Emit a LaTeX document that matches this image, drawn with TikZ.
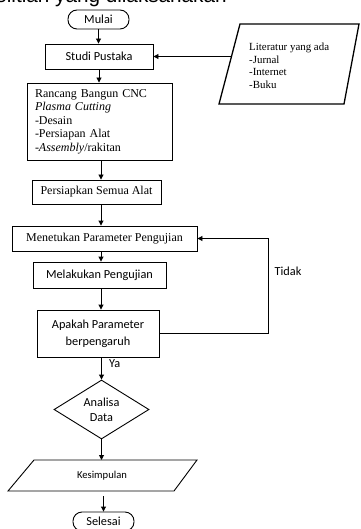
\documentclass[tikz,border=0pt]{standalone}
\usepackage{fontspec}
\setmainfont{Liberation Serif}
\newfontfamily\calib{Carlito}
\newfontfamily\arialf{Liberation Sans}
\usetikzlibrary{arrows.meta,shapes.geometric}
\begin{document}
\begin{tikzpicture}[x=1pt,y=-1pt,
  box/.style={draw,line width=0.9pt,rectangle,inner sep=0pt},
  term/.style={draw,line width=0.9pt,rounded corners=9pt,inner sep=0pt},
  arr/.style={line width=0.9pt,-{Triangle[length=5pt,width=5pt]}},
  ser/.style={font=\fontsize{12}{13.5}\selectfont},
  sans/.style={font=\calib\fontsize{12.3}{15}\selectfont}]
\useasboundingbox (0,0) rectangle (360,529);
\clip (0,0) rectangle (360,529);
\coordinate (spine) at (101,0);
\coordinate (fb) at (268,0);
% cropped heading
\node[anchor=base west,font=\arialf\fontsize{20.7}{24}\selectfont,inner sep=0pt] (title) at (55,2.5) {\llap{penelitian }yang dilaksanakan};
% terminators and boxes
\node[term,sans,minimum width=61pt,minimum height=19pt] (mulai) at (98.5,19.5) {Mulai};
\node[box,sans,minimum width=108pt,minimum height=25pt] (studi) at (99,56.5) {Studi Pustaka};
% literature parallelogram
\coordinate (l1) at (240,24);
\coordinate (l2) at (359,24);
\coordinate (l3) at (344,104);
\coordinate (l4) at (219,104);
\draw[line width=1.3pt] (l1)--(l2)--(l3)--(l4)--cycle;
\node[anchor=north west,align=left,font=\fontsize{10.9}{12.8}\selectfont,inner sep=0pt] (lit) at (249,42.6) {Literatur yang ada\\-Jurnal\\-Internet\\-Buku};
\coordinate (litL) at (231.5,56.5);
\draw[arr] (litL) -- (studi.east);
\node[box,ser,minimum width=145pt,minimum height=77pt,text width=129pt,align=left,inner xsep=8pt] (rancang) at (99.5,121.5) {Rancang Bangun CNC\\\textit{Plasma Cutting}\\-Desain\\-Persiapan Alat\\-\textit{Assembly}/rakitan};
\node[box,ser,minimum width=129pt,minimum height=24pt] (persiapkan) at (96.5,192) {Persiapkan Semua Alat};
\node[box,ser,minimum width=185pt,minimum height=25pt] (menetukan) at (104.5,238.5) {Menetukan Parameter Pengujian};
\node[box,sans,minimum width=133pt,minimum height=26pt] (melakukan) at (99.5,275) {Melakukan Pengujian};
\node[box,align=center,font=\calib\fontsize{12.3}{17}\selectfont,minimum width=122pt,minimum height=47pt] (apakah) at (98,333.5) {Apakah Parameter\\berpengaruh};
\node[draw,line width=0.9pt,diamond,aspect=1.6,inner sep=0pt,align=center,sans,minimum width=95pt,minimum height=59pt] (analisa) at (101.5,409.5) {Analisa\\Data};
% kesimpulan parallelogram
\coordinate (k1) at (34,460);
\coordinate (k2) at (197,460);
\coordinate (k3) at (174,491);
\coordinate (k4) at (8,491);
\draw[line width=0.9pt] (k1)--(k2)--(k3)--(k4)--cycle;
\node[font=\calib\fontsize{10.6}{12}\selectfont] (kes) at (102,476) {Kesimpulan};
\node[term,sans,minimum width=61pt,minimum height=19pt] (selesai) at (103.5,521.5) {Selesai};
% connectors
\draw[arr] (mulai.south) -- (mulai.south |- studi.north);
\draw[arr] (studi.south) -- (studi.south |- rancang.north);
\draw[arr] (rancang.south -| spine) -- (persiapkan.north -| spine);
\draw[arr] (persiapkan.south -| spine) -- (menetukan.north -| spine);
\draw[arr] (menetukan.south -| spine) -- (melakukan.north -| spine);
\draw[arr] (melakukan.south -| spine) -- (apakah.north -| spine);
\draw[arr] (apakah.south -| analisa.north) -- (analisa.north);
\node[sans,anchor=west,inner sep=0pt] (ya) at (109,364) {Ya};
\draw[arr] (analisa.south) -- (analisa.south |- k1);
\draw[arr,shorten <=5pt] (selesai.north |- k4) -- (selesai.north);
\draw[arr] (apakah.east) -- (apakah.east -| fb) |- (menetukan.east);
\node[sans] (tidak) at (288,271) {Tidak};
\end{tikzpicture}
\end{document}
